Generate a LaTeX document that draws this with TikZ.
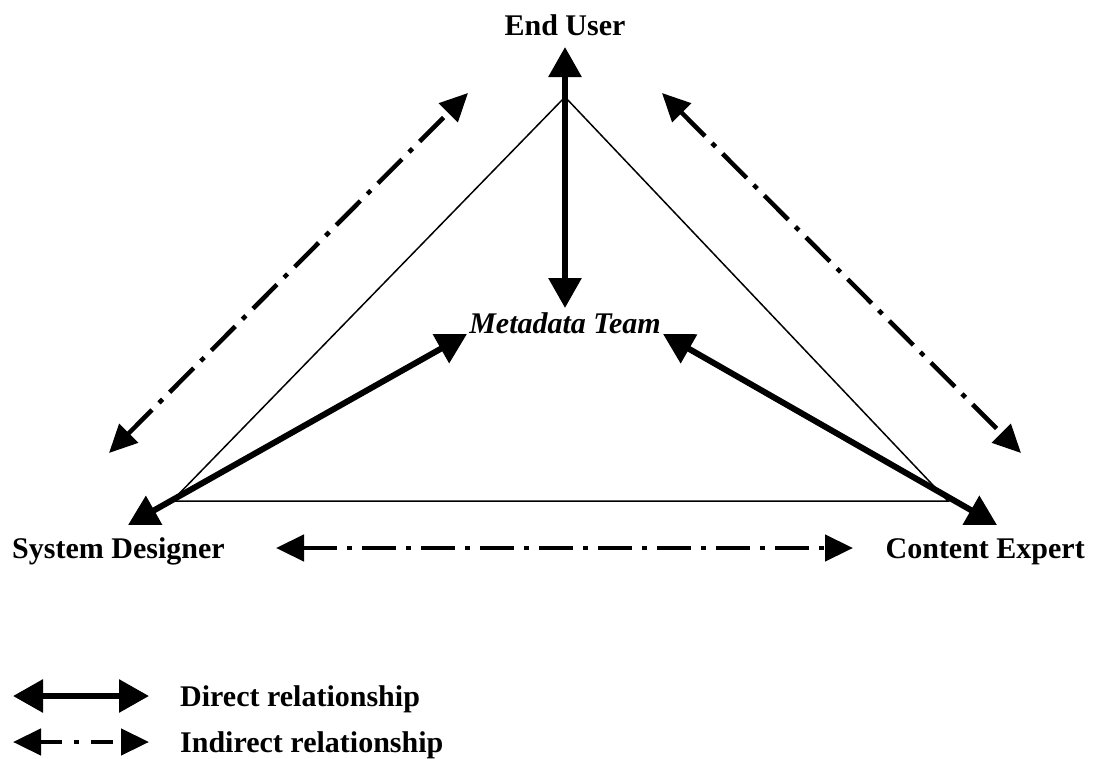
\documentclass[tikz,border=0pt]{standalone}
\usepackage{fontspec}
\setmainfont{Liberation Serif}
\usetikzlibrary{arrows.meta}
\begin{document}
\begin{tikzpicture}[x=1pt,y=-1pt,
  lbl/.style={font=\fontsize{30}{36}\selectfont\bfseries, inner sep=0pt},
  direct/.style={line width=6pt, {Triangle[length=30pt,width=32pt]}-{Triangle[length=30pt,width=32pt]}},
  indirect/.style={line width=4.5pt, dash pattern=on 34pt off 10pt on 5pt off 10pt,
    {Triangle[length=28pt,width=26pt]}-{Triangle[length=28pt,width=26pt]}},
  tri/.style={line width=1.5pt}]
\useasboundingbox (0,0) rectangle (1095,758);
% labels
\node[lbl, anchor=base] (eu) at (565,35) {End User};
\node[lbl, anchor=base, font=\fontsize{30}{36}\selectfont\bfseries\itshape] (mt) at (565,333) {Metadata Team};
\node[lbl, anchor=base west] (sd) at (12,558) {System Designer};
\node[lbl, anchor=base east] (ce) at (1085,558) {Content Expert};
% triangle
\coordinate (A) at (565,97);
\coordinate (B) at (172,501);
\coordinate (C) at (948,501);
\draw[tri] (A) -- (B) -- (C) -- cycle;
% direct arrows
\coordinate (euT) at (565,47);
\coordinate (mtT) at (565,308);
\coordinate (mtL) at (467,334);
\coordinate (mtR) at (663,334);
\coordinate (sdT) at (128,525);
\coordinate (ceT) at (997,525);
\draw[direct] (euT) -- (mtT);
\draw[direct] (sdT) -- (mtL);
\draw[direct] (ceT) -- (mtR);
% indirect arrows
\coordinate (iL1) at (109,453);
\coordinate (iL2) at (468,93);
\coordinate (iR1) at (662,93);
\coordinate (iR2) at (1021,453);
\coordinate (iB1) at (276,548);
\coordinate (iB2) at (853,548);
\draw[indirect] (iL1) -- (iL2);
\draw[indirect] (iR1) -- (iR2);
\draw[indirect] (iB1) -- (iB2);
% legend
\coordinate (l1a) at (13,696);
\coordinate (l1b) at (149,696);
\coordinate (l2a) at (13,742);
\coordinate (l2b) at (149,742);
\draw[direct] (l1a) -- (l1b);
\draw[indirect, dash pattern=on 22pt off 12pt on 5pt off 12pt] (l2a) -- (l2b);
\node[lbl, anchor=base west] (ld) at (180,706) {Direct relationship};
\node[lbl, anchor=base west] (li) at (180,752) {Indirect relationship};
\end{tikzpicture}
\end{document}
